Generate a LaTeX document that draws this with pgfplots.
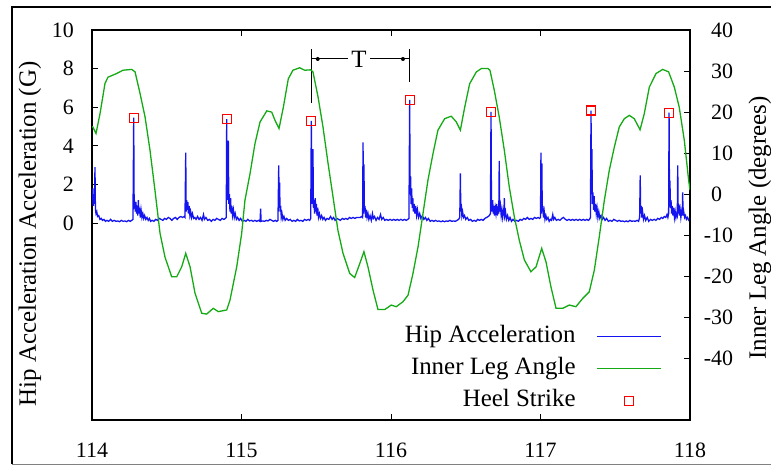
\documentclass[border=0pt]{standalone}
\usepackage{pgfplots}
\pgfplotsset{compat=1.18}
\usepackage{fontspec}
\setmainfont{Liberation Serif}
\definecolor{cblue}{RGB}{20,20,240}
\definecolor{cgreen}{RGB}{20,170,20}
\definecolor{cred}{RGB}{255,0,0}
\newcommand\tickfont{\fontsize{22}{24}\selectfont}
\newcommand\labfont{\fontsize{25}{28}\selectfont}
\pgfplotsset{common/.style={scale only axis, width=598bp, height=390bp, xmin=114, xmax=118,
  at={(0,0)}, anchor=south west, tick align=inside, major tick length=6bp,
  axis line style={line width=1.1bp}, every tick/.style={black, line width=1bp}},
  lineleg/.style={legend image code/.code={\draw[##1] (0bp,0bp) -- (64bp,0bp);}},
  markleg/.style={legend image code/.code={\draw[##1] plot coordinates {(32bp,0bp)};}}}
\begin{document}
\begin{tikzpicture}
% ---------- left axis: hip acceleration ----------
\begin{axis}[common, name=ax, ymin=-10.18, ymax=10,
  ytick={0,2,4,6,8,10}, yticklabels={0,2,4,6,8,10}, ytick pos=left,
  xtick={114,115,116,117,118}, xticklabels={114,115,116,117,118}, xtick pos=both,
  xticklabel style={font=\tickfont, anchor=base, yshift=-38bp, inner sep=0pt},
  yticklabel style={font=\tickfont, anchor=east, inner sep=0pt, xshift=-18bp}]
\addplot[cblue, line width=1.3bp] coordinates {
(114.000,1.2)(114.004,1.8)(114.008,0.9)(114.012,1.5)(114.016,1.0)(114.020,2.9)(114.023,0.7)(114.027,0.5)(114.032,0.6)(114.037,0.35)(114.045,0.4)(114.053,0.2)(114.062,0.25)(114.070,0.15)(114.080,0.2)(114.090,0.1)(114.100,0.15)(114.112,0.1)(114.124,0.2)(114.136,0.1)(114.148,0.15)(114.160,0.1)(114.172,0.12)(114.184,0.08)(114.196,0.15)(114.208,0.1)(114.220,0.12)(114.232,0.08)(114.244,0.15)(114.256,0.1)(114.266,0.15)(114.274,0.2)
(114.279,5.46)(114.282,0.9)(114.286,1.0)(114.290,0.6)(114.294,1.1)(114.298,0.5)(114.302,0.9)(114.306,0.4)(114.310,1.2)(114.314,0.5)(114.318,0.8)(114.323,0.3)(114.328,0.7)(114.334,0.3)(114.340,0.5)(114.346,0.25)(114.352,0.4)(114.360,0.2)(114.368,0.3)(114.376,0.15)(114.384,0.25)(114.392,0.1)(114.402,0.15)(114.414,0.1)(114.426,0.2)(114.438,0.15)(114.450,0.25)(114.462,0.2)(114.474,0.15)(114.486,0.25)(114.498,0.2)(114.510,0.3)(114.522,0.25)(114.534,0.15)(114.546,0.25)(114.558,0.3)(114.570,0.2)(114.582,0.3)(114.594,0.35)(114.606,0.3)(114.616,0.35)(114.622,0.3)
(114.627,3.66)(114.630,0.6)(114.633,1.2)(114.637,0.7)(114.641,1.1)(114.645,0.5)(114.650,0.9)(114.655,0.4)(114.660,0.6)(114.666,0.3)(114.672,0.5)(114.680,0.25)(114.688,0.3)(114.696,0.2)(114.706,0.35)(114.716,0.2)(114.726,0.3)(114.736,0.15)(114.746,0.45)(114.752,0.2)(114.762,0.3)(114.774,0.15)(114.786,0.2)(114.798,0.1)(114.810,0.2)(114.822,0.15)(114.834,0.25)(114.846,0.2)(114.858,0.15)(114.870,0.25)(114.882,0.2)(114.892,0.25)(114.898,0.3)
(114.901,5.39)(114.904,1.2)(114.908,2.0)(114.912,4.27)(114.915,1.0)(114.919,1.5)(114.923,0.6)(114.927,1.3)(114.931,0.5)(114.935,0.9)(114.940,0.4)(114.946,0.7)(114.952,0.3)(114.958,0.5)(114.966,0.2)(114.974,0.3)(114.984,0.15)(114.994,0.25)(115.006,0.1)(115.018,0.15)(115.030,0.1)(115.042,0.2)(115.054,0.12)(115.066,0.15)(115.078,0.1)(115.090,0.15)(115.102,0.1)(115.114,0.15)(115.124,0.1)
(115.128,0.75)(115.131,0.1)(115.142,0.12)(115.154,0.1)(115.166,0.15)(115.178,0.12)(115.190,0.2)(115.202,0.15)(115.214,0.1)(115.226,0.15)(115.236,0.1)(115.244,0.15)
(115.249,3.0)(115.252,0.8)(115.255,2.1)(115.258,0.6)(115.262,0.9)(115.266,0.3)(115.271,0.5)(115.277,0.2)(115.284,0.35)(115.292,0.15)(115.302,0.25)(115.314,0.15)(115.326,0.2)(115.338,0.1)(115.350,0.15)(115.362,0.1)(115.374,0.2)(115.386,0.12)(115.398,0.15)(115.410,0.1)(115.422,0.2)(115.434,0.15)(115.446,0.2)(115.456,0.15)(115.463,0.25)
(115.467,5.30)(115.470,1.0)(115.474,2.0)(115.478,3.84)(115.481,0.8)(115.485,1.1)(115.489,0.5)(115.493,1.3)(115.497,0.6)(115.501,1.0)(115.505,0.4)(115.510,0.8)(115.515,0.3)(115.521,0.5)(115.528,0.25)(115.536,0.4)(115.544,0.2)(115.552,0.3)(115.562,0.15)(115.572,0.25)(115.584,0.2)(115.596,0.35)(115.606,0.2)(115.616,0.3)(115.626,0.15)(115.638,0.25)(115.650,0.2)(115.662,0.15)(115.674,0.25)(115.686,0.2)(115.698,0.25)(115.710,0.2)(115.722,0.3)(115.734,0.25)(115.746,0.3)(115.758,0.25)(115.770,0.3)(115.782,0.3)(115.794,0.3)(115.804,0.35)(115.810,0.3)
(115.813,4.19)(115.816,0.5)(115.819,3.05)(115.822,0.6)(115.826,0.9)(115.830,0.3)(115.835,0.7)(115.840,0.3)(115.846,0.5)(115.852,0.2)(115.860,0.4)(115.868,0.15)(115.876,0.5)(115.882,0.25)(115.890,0.35)(115.900,0.15)(115.910,0.3)(115.920,0.2)(115.930,0.45)(115.938,0.2)(115.948,0.3)(115.958,0.15)(115.970,0.2)(115.982,0.15)(115.994,0.2)(116.006,0.15)(116.018,0.2)(116.030,0.15)(116.042,0.2)(116.054,0.15)(116.066,0.2)(116.078,0.15)(116.090,0.2)(116.102,0.15)(116.112,0.2)(116.120,0.25)
(116.125,6.39)(116.128,1.5)(116.131,2.44)(116.134,1.0)(116.138,1.8)(116.142,0.8)(116.146,1.3)(116.150,0.6)(116.155,1.0)(116.160,0.5)(116.165,0.9)(116.171,0.4)(116.177,0.7)(116.184,0.3)(116.192,0.5)(116.200,0.25)(116.210,0.4)(116.220,0.2)(116.230,0.3)(116.240,0.15)(116.250,0.25)(116.262,0.1)(116.274,0.15)(116.286,0.1)(116.298,0.15)(116.310,0.1)(116.322,0.12)(116.334,0.08)(116.346,0.12)(116.358,0.08)(116.370,0.12)(116.382,0.1)(116.394,0.15)(116.406,0.1)(116.418,0.12)(116.430,0.1)(116.442,0.15)(116.452,0.2)(116.460,0.3)
(116.464,2.58)(116.467,0.6)(116.470,1.0)(116.474,0.4)(116.479,0.6)(116.485,0.3)(116.492,0.4)(116.500,0.2)(116.510,0.3)(116.520,0.15)(116.532,0.2)(116.544,0.1)(116.556,0.15)(116.568,0.1)(116.580,0.2)(116.592,0.15)(116.604,0.2)(116.616,0.15)(116.628,0.25)(116.640,0.3)(116.650,0.35)(116.658,0.4)(116.665,0.5)
(116.669,5.76)(116.672,1.0)(116.676,0.6)(116.680,1.2)(116.684,0.5)(116.688,0.9)(116.692,0.4)(116.697,0.8)(116.702,0.5)(116.707,1.0)(116.712,0.4)(116.717,0.7)(116.721,0.5)(116.724,3.23)(116.727,0.6)(116.732,0.9)(116.737,0.4)(116.742,0.7)(116.747,0.3)(116.752,0.6)(116.755,0.4)(116.758,1.3)(116.761,0.4)(116.766,0.6)(116.772,0.2)(116.780,0.4)(116.788,0.15)(116.796,0.3)(116.806,0.1)(116.816,0.2)(116.828,0.1)(116.840,0.15)(116.852,0.1)(116.864,0.2)(116.876,0.15)(116.888,0.25)(116.900,0.2)(116.912,0.3)(116.924,0.2)(116.936,0.25)(116.948,0.2)(116.960,0.3)(116.972,0.25)(116.984,0.3)(116.994,0.25)(117.000,0.3)
(117.003,3.66)(117.006,0.5)(117.009,3.1)(117.012,0.6)(117.016,0.9)(117.020,0.3)(117.025,0.6)(117.030,0.2)(117.036,0.4)(117.042,0.2)(117.050,0.3)(117.058,0.1)(117.066,0.2)(117.074,0.15)(117.082,0.45)(117.088,0.2)(117.096,0.3)(117.106,0.15)(117.118,0.2)(117.130,0.15)(117.142,0.25)(117.154,0.3)(117.166,0.2)(117.178,0.15)(117.190,0.2)(117.202,0.15)(117.214,0.2)(117.226,0.15)(117.238,0.2)(117.250,0.15)(117.262,0.2)(117.274,0.15)(117.286,0.2)(117.298,0.15)(117.310,0.2)(117.320,0.15)(117.328,0.2)(117.334,0.3)
(117.338,5.83)(117.341,1.5)(117.344,3.84)(117.347,1.0)(117.351,1.6)(117.355,0.7)(117.359,1.4)(117.363,0.6)(117.368,1.0)(117.373,0.5)(117.378,0.8)(117.384,0.3)(117.390,0.6)(117.397,0.25)(117.405,0.4)(117.413,0.2)(117.422,0.3)(117.432,0.15)(117.442,0.25)(117.454,0.1)(117.466,0.15)(117.478,0.1)(117.490,0.2)(117.502,0.15)(117.514,0.1)(117.526,0.15)(117.538,0.1)(117.550,0.12)(117.562,0.08)(117.574,0.12)(117.586,0.08)(117.598,0.15)(117.610,0.1)(117.622,0.12)(117.634,0.1)(117.646,0.15)(117.656,0.1)(117.663,0.3)
(117.667,2.48)(117.670,0.5)(117.674,0.9)(117.678,0.3)(117.683,0.6)(117.689,0.2)(117.696,0.4)(117.704,0.15)(117.714,0.3)(117.724,0.1)(117.736,0.2)(117.748,0.15)(117.760,0.2)(117.772,0.15)(117.784,0.25)(117.796,0.2)(117.808,0.3)(117.818,0.25)(117.828,0.35)(117.838,0.3)(117.846,0.45)(117.852,0.3)(117.857,0.5)
(117.860,5.72)(117.863,1.0)(117.866,2.2)(117.869,0.8)(117.873,1.2)(117.877,0.5)(117.881,0.9)(117.886,0.4)(117.891,0.8)(117.896,0.3)(117.901,0.6)(117.906,0.3)(117.911,0.5)(117.915,0.4)(117.918,3.0)(117.921,0.5)(117.925,1.0)(117.929,0.4)(117.934,0.7)(117.939,0.3)(117.944,0.6)(117.948,0.4)(117.951,1.6)(117.954,0.4)(117.958,0.6)(117.964,0.3)(117.970,0.4)(117.976,0.2)(117.984,0.3)(117.992,0.15)(118.000,0.2)
};
% period annotation T
\draw[black, line width=1bp] (axis cs:115.467,6.22) -- (axis cs:115.467,9.02);
\draw[black, line width=1bp] (axis cs:116.125,7.31) -- (axis cs:116.125,9.02);
\draw[black, line width=1bp] (axis cs:115.467,8.5) -- (axis cs:116.125,8.5);
\fill[black] (axis cs:115.51,8.5) circle[radius=2bp];
\fill[black] (axis cs:116.08,8.5) circle[radius=2bp];
\node[fill=white, inner sep=3bp, font=\labfont] at (axis cs:115.786,8.5) {T};
\end{axis}
% ---------- right axis: inner leg angle ----------
\begin{axis}[common, ymin=-55, ymax=40, axis y line*=right, axis x line=none,
  ytick={-40,-30,-20,-10,0,10,20,30,40},
  yticklabels={\llap{-}40,\llap{-}30,\llap{-}20,\llap{-}10,0,10,20,30,40},
  yticklabel style={font=\tickfont, anchor=west, inner sep=0pt, xshift=21bp}]
\addplot[cgreen, line width=1.3bp] coordinates {
(114.000,16.4)(114.005,16.4)(114.027,14.8)(114.054,19.7)(114.087,27.0)(114.107,28.5)(114.165,29.4)(114.207,30.2)(114.266,30.4)(114.288,29.8)(114.321,24.6)(114.355,18.8)(114.388,10.7)(114.421,1.0)(114.455,-9.5)(114.488,-15.3)(114.533,-20.1)(114.567,-20.1)(114.600,-17.7)(114.627,-14.4)(114.656,-17.7)(114.689,-24.1)(114.734,-29.0)(114.767,-29.2)(114.811,-27.8)(114.845,-28.6)(114.901,-28.2)(114.923,-25.8)(114.968,-17.7)(115.001,-9.6)(115.023,-1.5)(115.057,5.0)(115.090,12.3)(115.124,17.6)(115.169,20.3)(115.202,20.0)(115.224,18.0)(115.251,16.0)(115.280,21.2)(115.313,28.1)(115.344,30.2)(115.389,30.8)(115.423,30.2)(115.463,30.3)(115.478,29.8)(115.512,23.7)(115.545,16.4)(115.579,7.5)(115.612,-0.6)(115.645,-8.8)(115.679,-14.4)(115.724,-19.3)(115.757,-20.3)(115.791,-16.9)(115.819,-14.0)(115.846,-17.7)(115.880,-23.4)(115.913,-28.1)(115.958,-28.1)(116.002,-27.0)(116.035,-27.4)(116.080,-26.2)(116.114,-24.6)(116.147,-19.3)(116.181,-12.8)(116.214,-4.7)(116.247,3.4)(116.281,9.9)(116.314,15.6)(116.359,18.4)(116.403,19.0)(116.437,17.6)(116.464,15.6)(116.493,21.2)(116.526,26.9)(116.571,29.8)(116.604,30.6)(116.649,30.6)(116.662,30.2)(116.691,25.3)(116.724,18.8)(116.758,10.7)(116.791,1.8)(116.825,-5.5)(116.858,-11.2)(116.892,-16.0)(116.936,-18.9)(116.970,-17.7)(117.008,-13.2)(117.037,-16.5)(117.070,-22.6)(117.104,-27.8)(117.148,-27.8)(117.193,-27.0)(117.237,-27.4)(117.282,-25.4)(117.326,-23.8)(117.360,-18.5)(117.393,-10.4)(117.427,-1.5)(117.460,5.8)(117.494,11.5)(117.527,16.4)(117.561,18.4)(117.594,19.2)(117.627,18.4)(117.666,15.7)(117.694,19.6)(117.728,26.1)(117.773,29.4)(117.817,30.4)(117.857,29.8)(117.895,26.1)(117.928,21.2)(117.962,13.1)(117.991,3.4)(118.000,1.0)
};
\end{axis}
% ---------- heel strikes + legend ----------
\begin{axis}[common, ymin=-10.18, ymax=10, hide axis,
  legend style={draw=none, fill=none, inner sep=0pt, outer sep=0pt,
    at={(0.953,0.2444)}, anchor=north east, font=\labfont, row sep=8bp,
    nodes={inner sep=0pt, text height=18bp, text depth=6bp},
    /tikz/every odd column/.append style={column sep=21bp}},
  legend cell align=right, legend plot pos=right]
\addlegendimage{cblue, line width=1.3bp, lineleg}
\addlegendentry{Hip Acceleration}
\addlegendimage{cgreen, line width=1.3bp, lineleg}
\addlegendentry{Inner Leg Angle}
\addplot[only marks, mark=square, mark size=4.5bp, cred, mark options={line width=1.2bp}, markleg] coordinates {
(114.279,5.46)(114.901,5.39)(115.467,5.30)(116.125,6.39)(116.669,5.76)(117.338,5.83)(117.860,5.72)};
\addlegendentry{Heel Strike}
\end{axis}
% axis titles
\node[rotate=90, font=\labfont, anchor=center] at ([shift={(-62bp,186bp)}]ax.south west) {Hip Acceleration Acceleration (G)};
\node[rotate=90, font=\labfont, anchor=center] at ([shift={(668bp,192bp)}]ax.south west) {Inner Leg Angle (degrees)};
% outer frame of the figure
\draw[black, line width=2bp] ([shift={(-80bp,-44bp)}]ax.south west) -- ([shift={(-80bp,413bp)}]ax.south west) -- ([shift={(690bp,413bp)}]ax.south west);
\draw[gray, line width=1bp] ([shift={(-80bp,-44bp)}]ax.south west) -- ([shift={(690bp,-44bp)}]ax.south west);
\pgfresetboundingbox
\path[use as bounding box] ([shift={(-92bp,-46bp)}]ax.south west) rectangle ([shift={(679bp,420bp)}]ax.south west);
\end{tikzpicture}
\end{document}
